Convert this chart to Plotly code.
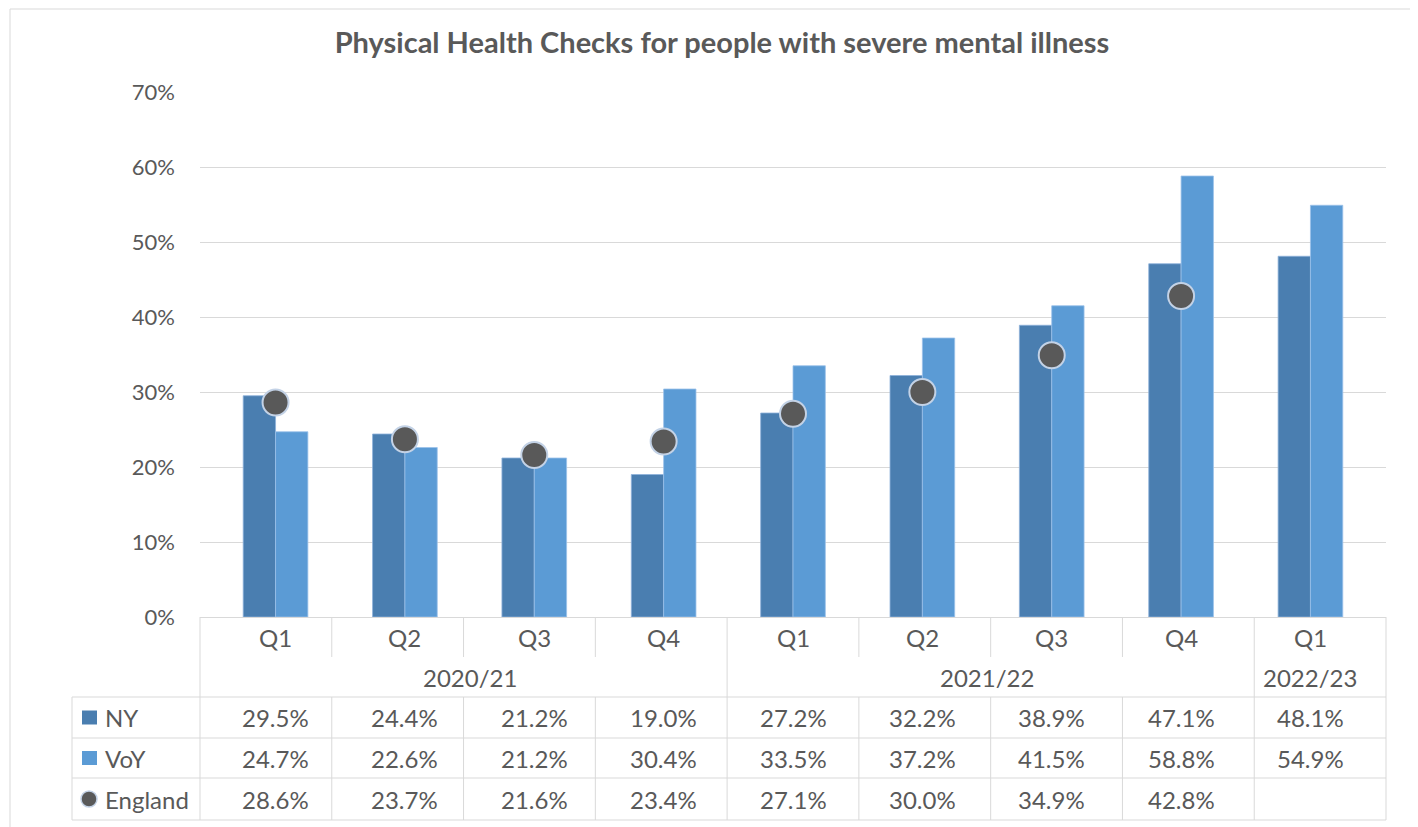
import plotly.graph_objects as go

quarters = ["Q1", "Q2", "Q3", "Q4", "Q1", "Q2", "Q3", "Q4", "Q1"]
years = ["2020/21", "2020/21", "2020/21", "2020/21",
         "2021/22", "2021/22", "2021/22", "2021/22", "2022/23"]
ny = [29.5, 24.4, 21.2, 19.0, 27.2, 32.2, 38.9, 47.1, 48.1]
voy = [24.7, 22.6, 21.2, 30.4, 33.5, 37.2, 41.5, 58.8, 54.9]
england = [28.6, 23.7, 21.6, 23.4, 27.1, 30.0, 34.9, 42.8, None]

series_names = ["NY", "VoY", "England"]
title = "Physical Health Checks for people with severe mental illness"

W, H = 1418, 827
OFF = 8  # page body margin
NY_COL = "#4A7EB0"
VOY_COL = "#5B9BD5"
ENG_COL = "#595959"
TXT = "#595959"
GRID = "#D9D9D9"
FONT = "Lato"

# plot area in page pixels
left, right, top, bottom = 200, 1386, 92, 617
label_left = 72
row_lines = [657, 697, 738, 778, 820]


def fx(px):
    return (px - OFF) / W


def fy(py):
    return 1 - (py - OFF) / H


cats = [f"{y} {q}" for y, q in zip(years, quarters)]
n = len(cats)
cw = (right - left) / n

fig = go.Figure()
fig.add_trace(go.Bar(x=cats, y=ny, name=series_names[0], marker_color=NY_COL,
                     marker_line=dict(color="#8EB1DA", width=0.8)))
fig.add_trace(go.Bar(x=cats, y=voy, name=series_names[1], marker_color=VOY_COL,
                     marker_line=dict(color="#9CC2EA", width=0.8)))
fig.add_trace(go.Scatter(x=cats, y=england, name=series_names[2], mode="markers",
                         marker=dict(size=26, color=ENG_COL,
                                     line=dict(color="#C3D2E6", width=2))))

shapes = []


def hline(y, x0, x1):
    shapes.append(dict(type="line", xref="paper", yref="paper",
                       x0=fx(x0), x1=fx(x1), y0=fy(y), y1=fy(y),
                       line=dict(color=GRID, width=1)))


def vline(x, y0, y1):
    shapes.append(dict(type="line", xref="paper", yref="paper",
                       x0=fx(x), x1=fx(x), y0=fy(y0), y1=fy(y1),
                       line=dict(color=GRID, width=1)))


# table grid
for y in row_lines[1:]:
    hline(y, label_left, right)
vline(label_left, row_lines[1], row_lines[-1])
for i in range(n + 1):
    x = left + i * cw
    full = i == 0 or i == n or years[i - 1] != years[min(i, n - 1)]
    if full:
        vline(x, bottom, row_lines[-1])
    else:
        vline(x, bottom, row_lines[0])
        vline(x, row_lines[1], row_lines[-1])

# outer chart border
shapes.append(dict(type="rect", xref="paper", yref="paper",
                   x0=fx(10), x1=fx(1440), y0=fy(9), y1=fy(850),
                   line=dict(color=GRID, width=1)))

annotations = []
row_mid = [(row_lines[k] + row_lines[k + 1]) / 2 for k in range(len(row_lines) - 1)]
q_mid = (bottom + row_lines[0]) / 2


def ann(text, x, y, xref="x", size=24, xanchor="center"):
    annotations.append(dict(text=text, x=x, y=fy(y), xref=xref, yref="paper",
                            showarrow=False, xanchor=xanchor, yanchor="middle",
                            font=dict(family=FONT, size=size, color=TXT)))


for i, q in enumerate(quarters):
    ann(q, i, q_mid)

# year labels centred on their group
seen = []
for y in years:
    if y not in seen:
        seen.append(y)
for y in seen:
    idx = [i for i, v in enumerate(years) if v == y]
    ann(y, sum(idx) / len(idx), row_mid[0])

for r, vals in enumerate([ny, voy, england]):
    for i, v in enumerate(vals):
        if v is not None:
            ann(f"{v:.1f}%", i, row_mid[r + 1])
    ann(series_names[r], fx(103), row_mid[r + 1], xref="paper", xanchor="left")

# legend keys in the table
for r, col in enumerate([NY_COL, VOY_COL]):
    ym = row_mid[r + 1]
    shapes.append(dict(type="rect", xref="paper", yref="paper",
                       x0=fx(82), x1=fx(97), y0=fy(ym - 7), y1=fy(ym + 7),
                       fillcolor=col, line=dict(width=0)))
ym = row_mid[3]
shapes.append(dict(type="circle", xref="paper", yref="paper",
                   x0=fx(81), x1=fx(97), y0=fy(ym - 8), y1=fy(ym + 8),
                   fillcolor=ENG_COL, line=dict(color="#C3D2E6", width=1.5)))

fig.update_layout(
    width=W, height=H,
    margin=dict(l=0, r=0, t=0, b=0),
    paper_bgcolor="white", plot_bgcolor="white",
    barmode="group", bargap=0.5, bargroupgap=0,
    showlegend=False,
    title=dict(text=f"<b>{title}</b>", x=fx(722), y=fy(43), xanchor="center",
               yanchor="middle", font=dict(family=FONT, size=29, color=TXT)),
    font=dict(family=FONT, color=TXT),
    shapes=shapes, annotations=annotations,
    xaxis=dict(domain=[fx(left), fx(right)], showticklabels=False,
               showline=True, linecolor=GRID, linewidth=1, ticks="",
               showgrid=False, automargin=False),
    yaxis=dict(domain=[fy(bottom), fy(top)], range=[0, 70], dtick=10,
               ticksuffix="%", showgrid=True, gridcolor=GRID, gridwidth=1,
               zeroline=False, showline=False, ticks="", automargin=False,
               ticklabelstandoff=24,
               tickfont=dict(family=FONT, size=22, color=TXT)),
)

fig.write_html("out.html")
